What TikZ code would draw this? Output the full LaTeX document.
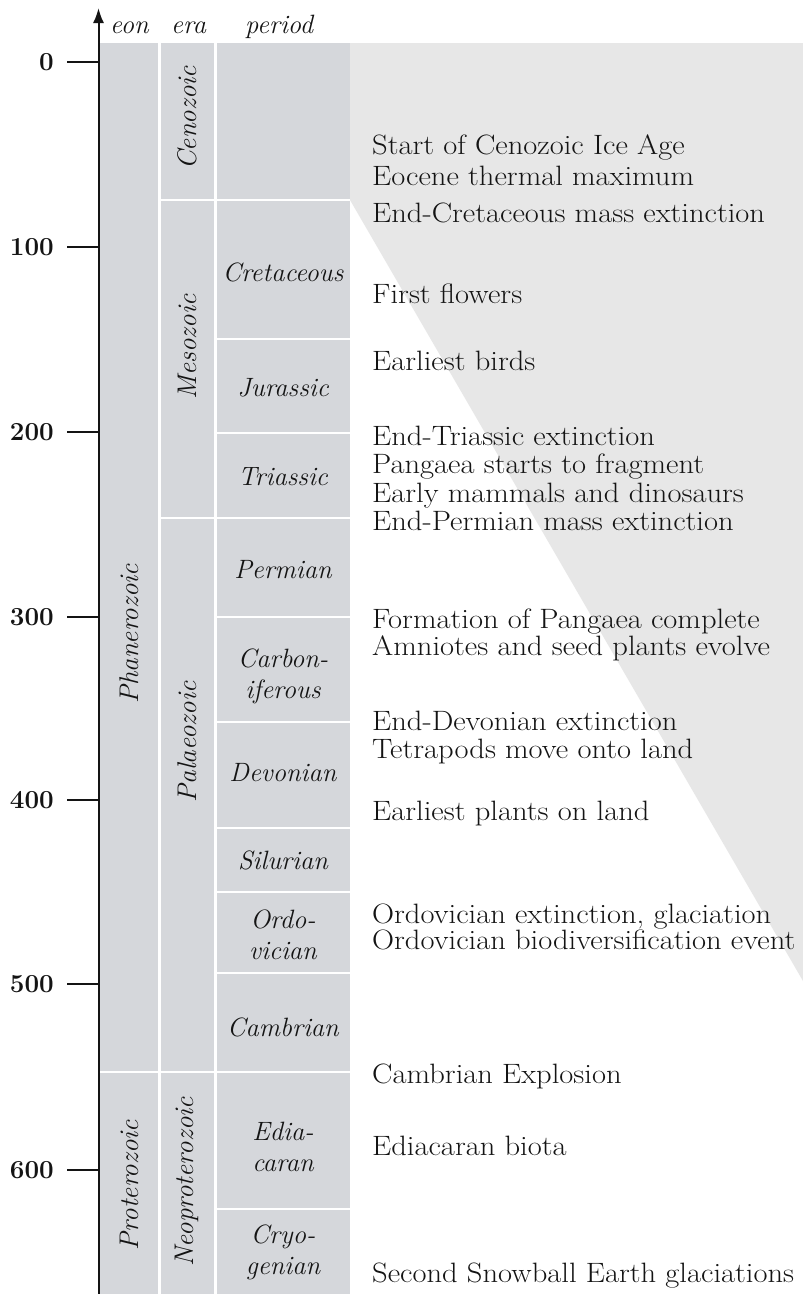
\documentclass[tikz,border=0pt]{standalone}
\usepackage{graphicx}
\usetikzlibrary{arrows.meta}
\definecolor{colgrey}{RGB}{213,215,219}
\definecolor{lightgrey}{RGB}{231,231,231}
\definecolor{ink}{RGB}{20,20,20}
\newcommand{\evtext}[1]{\scalebox{1.09}[1]{#1}}
\begin{document}
\begin{tikzpicture}[x=1pt,y=-1pt,
  sep/.style={white,line width=2.5pt},
  tick/.style={ink,line width=2pt},
  num/.style={anchor=east,inner sep=0pt,text=ink,font=\fontsize{26}{26}\selectfont\bfseries},
  head/.style={anchor=base west,inner sep=0pt,text=ink,font=\fontsize{26.5}{26}\selectfont\itshape},
  perlabel/.style={inner sep=0pt,text=ink,align=center,font=\fontsize{26.5}{31}\selectfont\itshape},
  rotlabel/.style={rotate=90,inner sep=0pt,text=ink,font=\fontsize{27}{27}\selectfont\itshape},
  event/.style={anchor=base west,inner sep=0pt,text=ink,font=\fontsize{28}{30}\selectfont}]
\useasboundingbox (0,0) rectangle (803,1294);
\fill[white] (0,0) rectangle (803,1294);
% light background region
\fill[lightgrey] (350,43) -- (803,43) -- (803,981) -- (350,200) -- cycle;
% columns
\fill[colgrey] (100,43) rectangle (350,1294);
\draw[sep] (159.5,43) -- (159.5,1294);
\draw[sep] (215.5,43) -- (215.5,1294);
\draw[sep] (159.5,200) -- (350,200);
\draw[sep] (159.5,518) -- (350,518);
\draw[sep] (100,1072) -- (350,1072);
\foreach \yy in {339,433,617,722,828,892,973,1209}
  \draw[sep] (215.5,\yy) -- (350,\yy);
% axis
\coordinate (axbot) at (98.5,1294);
\coordinate (axtop) at (98.5,8);
\draw[ink,line width=2pt,-{Latex[length=15pt,width=11pt]}] (axbot) -- (axtop);
\foreach \v/\yy in {0/62,100/247,200/432,300/617,400/800,500/984,600/1170}{
  \coordinate (t\v) at (98.5,\yy);
  \coordinate (s\v) at (67,\yy);
  \draw[tick] (s\v) -- (t\v);
  \node[num] (n\v) at (54,\yy) {\v};
}
% headers
\node[head] (heon) at (110,33) {eon};
\node[head] (hera) at (171,33) {era};
\node[head] (hper) at (245,33) {period};
% eons and eras
\node[rotlabel] (phan) at (129,634) {Phanerozoic};
\node[rotlabel] (prot) at (129,1185) {Proterozoic};
\node[rotlabel] (ceno) at (187,118) {Cenozoic};
\node[rotlabel] (meso) at (187,347) {Mesozoic};
\node[rotlabel] (pala) at (187,742) {Palaeozoic};
\node[rotlabel] (neop) at (187,1182) {Neoproterozoic};
% periods
\node[perlabel] (cret) at (283,272) {Cretaceous};
\node[perlabel] (jura) at (283,388) {Jurassic};
\node[perlabel] (tria) at (283,477) {Triassic};
\node[perlabel] (perm) at (283,570) {Permian};
\node[perlabel] (carb) at (283,676) {Carbon-\\iferous};
\node[perlabel] (devo) at (283,773) {Devonian};
\node[perlabel] (silu) at (283,860) {Silurian};
\node[perlabel] (ordo) at (283,935) {Ordo-\\vician};
\node[perlabel] (camb) at (283,1027) {Cambrian};
\node[perlabel] (edia) at (283,1147) {Edia-\\caran};
\node[perlabel] (cryo) at (283,1252) {Cryo-\\genian};
% events
\node[event] (e1) at (372,154) {\evtext{Start of Cenozoic Ice Age}};
\node[event] (e2) at (372,185) {\evtext{Eocene thermal maximum}};
\node[event] (e3) at (372,222) {\evtext{End-Cretaceous mass extinction}};
\node[event] (e4) at (372,303) {\evtext{First flowers}};
\node[event] (e5) at (372,370) {\evtext{Earliest birds}};
\node[event] (e6) at (372,445) {\evtext{End-Triassic extinction}};
\node[event] (e7) at (372,473) {\evtext{Pangaea starts to fragment}};
\node[event] (e8) at (372,502) {\evtext{Early mammals and dinosaurs}};
\node[event] (e9) at (372,530) {\evtext{End-Permian mass extinction}};
\node[event] (e10) at (372,628) {\evtext{Formation of Pangaea complete}};
\node[event] (e11) at (372,655) {\evtext{Amniotes and seed plants evolve}};
\node[event] (e12) at (372,730) {\evtext{End-Devonian extinction}};
\node[event] (e13) at (372,758) {\evtext{Tetrapods move onto land}};
\node[event] (e14) at (372,820) {\evtext{Earliest plants on land}};
\node[event] (e15) at (372,923) {\evtext{Ordovician extinction, glaciation}};
\node[event] (e16) at (372,949) {\evtext{Ordovician biodiversification event}};
\node[event] (e17) at (372,1083) {\evtext{Cambrian Explosion}};
\node[event] (e18) at (372,1155) {\evtext{Ediacaran biota}};
\node[event] (e19) at (372,1282) {\evtext{Second Snowball Earth glaciations}};
\end{tikzpicture}
\end{document}
